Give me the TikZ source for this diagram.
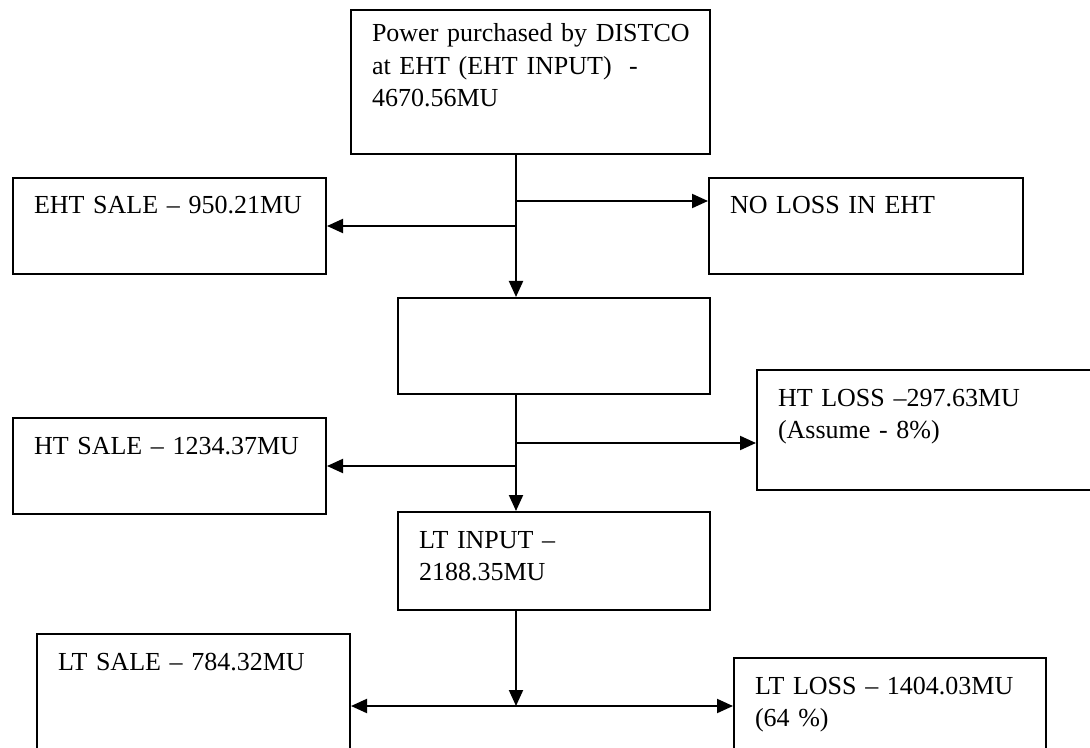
\documentclass[tikz,border=0pt]{standalone}
\usepackage{fontspec}
\setmainfont{Liberation Serif}
\usetikzlibrary{arrows.meta}
\hyphenpenalty=10000
\exhyphenpenalty=10000
\tikzset{
  box/.style 2 args={rectangle,draw=black,line width=1pt,anchor=north west,
              align=left,inner xsep=10.5pt,inner ysep=0pt,
              text width=#1,text height=18pt,text depth=#2,
              font=\fontsize{13}{16.25}\selectfont},
  arrow/.style={-{Triangle[length=8pt,width=7pt]},line width=1pt},
  dblarrow/.style={{Triangle[length=8pt,width=7pt]}-{Triangle[length=8pt,width=7pt]},
              line width=1pt},
}
\begin{document}
\begin{tikzpicture}[x=0.5pt,y=-0.5pt]
  \useasboundingbox (0,0) rectangle (1090,748);

  % EHT level
  \node[box={158.5pt}{56pt},text height=16pt] (eht) at (350,9)
       {Power~purchased~by~DISTCO\\at~EHT~(EHT~INPUT)\ \ -\\4670.56MU};
  \node[box={135.5pt}{30pt}] (ehtsale) at (12,177)  {EHT~SALE~--~950.21MU};
  \node[box={136pt}{30pt}]   (noloss)  at (708,177) {NO~LOSS~IN~EHT};

  % HT level
  \node[box={135pt}{30pt}]   (ht)      at (397,297) {};
  \node[box={135.5pt}{30pt}] (htsale)  at (12,417)  {HT~SALE~--~1234.37MU};
  \node[box={148.5pt}{42pt}] (htloss)  at (756,369) {HT~LOSS~--297.63MU\\(Assume~-~8\%)};

  % LT level
  \node[box={135pt}{31pt}]   (lt)      at (397,511) {LT~INPUT~--\\2188.35MU};
  \node[box={135.5pt}{43pt}] (ltsale)  at (36,633)  {LT~SALE~--~784.32MU};
  \node[box={135pt}{31pt}]   (ltloss)  at (733,657) {LT~LOSS~--~1404.03MU\\(64~\%)};

  \coordinate (spine) at (516,0);
  \coordinate (ehtR)  at (516,201);
  \coordinate (htR)   at (516,443);
  \coordinate (ltJ)   at (516,706);

  \draw[arrow] (eht.south -| spine) -- (ht.north -| spine);
  \draw[arrow] (ehtR) -- (ehtR -| noloss.west);
  \draw[arrow] (ehtsale.east -| spine) -- (ehtsale.east);

  \draw[arrow] (ht.south -| spine) -- (lt.north -| spine);
  \draw[arrow] (htR) -- (htR -| htloss.west);
  \draw[arrow] (htsale.east -| spine) -- (htsale.east);

  \draw[arrow] (lt.south -| spine) -- (ltJ);
  \draw[dblarrow] (ltJ -| ltsale.east) -- (ltJ -| ltloss.west);
\end{tikzpicture}
\end{document}
